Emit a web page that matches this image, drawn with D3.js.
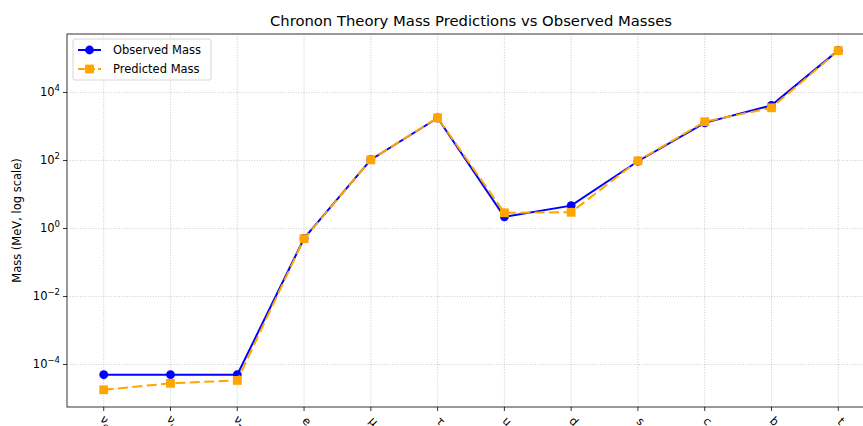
<!DOCTYPE html>
<html>
<head>
<meta charset="utf-8">
<script src="https://d3js.org/d3.v7.min.js"></script>
<style>
  body { margin: 0; background: #fff; overflow: hidden; }
  svg { display: block; font-family: "DejaVu Sans", sans-serif; }
</style>
</head>
<body>
<svg id="chart" width="863" height="426"></svg>
<script>
// particles and masses (MeV)
const particles = ["νe", "νμ", "ντ", "e", "μ", "τ", "u", "d", "s", "c", "b", "t"];
const observed = [5e-5, 5e-5, 5e-5, 0.511, 105.7, 1777, 2.2, 4.7, 95, 1275, 4180, 173000];
const predicted = [1.8e-5, 2.8e-5, 3.4e-5, 0.5, 105, 1800, 2.9, 3.0, 98, 1380, 3550, 170000];
const yTicks = [-4, -2, 0, 2, 4];

const svg = d3.select("#chart");
const plotLeft = 67, plotRight = 875, plotTop = 34, plotBottom = 407;

const x = d3.scaleLinear().domain([-0.55, particles.length - 1 + 0.55]).range([plotLeft, plotRight]);
const y = d3.scaleLog().domain([Math.pow(10, -5.25), Math.pow(10, 5.72)]).range([plotBottom, plotTop]);

// grid
const grid = svg.append("g");
particles.forEach((p, i) => {
  grid.append("line")
    .attr("x1", x(i)).attr("x2", x(i)).attr("y1", plotTop).attr("y2", plotBottom)
    .attr("stroke", "#b0b0b0").attr("stroke-width", 0.8).attr("stroke-dasharray", "1,1.6").attr("opacity", 0.8);
});
yTicks.forEach(e => {
  grid.append("line")
    .attr("x1", plotLeft).attr("x2", plotRight).attr("y1", y(Math.pow(10, e))).attr("y2", y(Math.pow(10, e)))
    .attr("stroke", "#b0b0b0").attr("stroke-width", 0.8).attr("stroke-dasharray", "1,1.6").attr("opacity", 0.8);
});

// y axis ticks and labels
yTicks.forEach(e => {
  const yy = y(Math.pow(10, e));
  svg.append("line").attr("x1", plotLeft - 4).attr("x2", plotLeft).attr("y1", yy).attr("y2", yy)
    .attr("stroke", "#000").attr("stroke-width", 0.8);
  const t = svg.append("text").attr("x", plotLeft - 7).attr("y", yy + 4)
    .attr("text-anchor", "end").attr("font-size", 11.5).attr("fill", "#000");
  t.append("tspan").text("10");
  t.append("tspan").attr("dy", -5).attr("font-size", 8.5).text(e < 0 ? "\u2212" + (-e) : e);
});

// x axis ticks and rotated labels
particles.forEach((p, i) => {
  svg.append("line").attr("x1", x(i)).attr("x2", x(i)).attr("y1", plotBottom).attr("y2", plotBottom + 4)
    .attr("stroke", "#000").attr("stroke-width", 0.8);
  const lbl = svg.append("text")
    .attr("transform", `translate(${x(i)},${plotBottom + 17}) rotate(45)`)
    .attr("text-anchor", "middle").attr("font-size", 11.5).attr("fill", "#000");
  if (p.length > 1) {
    lbl.append("tspan").text(p[0]);
    lbl.append("tspan").attr("dy", 3).attr("font-size", 8.5).text(p[1]);
  } else {
    lbl.text(p);
  }
});

// axes frame
svg.append("rect").attr("x", plotLeft).attr("y", plotTop).attr("width", plotRight - plotLeft).attr("height", plotBottom - plotTop)
  .attr("fill", "none").attr("stroke", "#000").attr("stroke-width", 0.8);

// series
const line = d3.line().x((d, i) => x(i)).y(d => y(d));

svg.append("path").datum(observed).attr("d", line)
  .attr("fill", "none").attr("stroke", "#0000ff").attr("stroke-width", 2);
svg.selectAll(".obs").data(observed).join("circle")
  .attr("cx", (d, i) => x(i)).attr("cy", d => y(d)).attr("r", 4.4).attr("fill", "#0000ff");

svg.append("path").datum(predicted).attr("d", line)
  .attr("fill", "none").attr("stroke", "orange").attr("stroke-width", 2).attr("stroke-dasharray", "10,4.4");
svg.selectAll(".pred").data(predicted).join("rect")
  .attr("x", (d, i) => x(i) - 4.4).attr("y", d => y(d) - 4.4).attr("width", 8.8).attr("height", 8.8).attr("fill", "orange");

// title and y label
svg.append("text").attr("x", (plotLeft + plotRight) / 2).attr("y", 26).attr("text-anchor", "middle")
  .attr("font-size", 14.8).attr("fill", "#000").text("Chronon Theory Mass Predictions vs Observed Masses");
svg.append("text").attr("transform", `translate(21,${(plotTop + plotBottom) / 2}) rotate(-90)`)
  .attr("text-anchor", "middle").attr("font-size", 11.5).attr("fill", "#000").text("Mass (MeV, log scale)");

// legend
const lg = svg.append("g").attr("transform", "translate(73,39)");
lg.append("rect").attr("width", 138).attr("height", 41).attr("rx", 2)
  .attr("fill", "#fff").attr("fill-opacity", 0.8).attr("stroke", "#ccc").attr("stroke-width", 0.8);
lg.append("line").attr("x1", 5).attr("x2", 28).attr("y1", 11).attr("y2", 11).attr("stroke", "#0000ff").attr("stroke-width", 2);
lg.append("circle").attr("cx", 16.5).attr("cy", 11).attr("r", 4.4).attr("fill", "#0000ff");
lg.append("text").attr("x", 40).attr("y", 15).attr("font-size", 11.5).text("Observed Mass");
lg.append("line").attr("x1", 5).attr("x2", 28).attr("y1", 30).attr("y2", 30).attr("stroke", "orange").attr("stroke-width", 2).attr("stroke-dasharray", "7,3");
lg.append("rect").attr("x", 12.1).attr("y", 25.6).attr("width", 8.8).attr("height", 8.8).attr("fill", "orange");
lg.append("text").attr("x", 40).attr("y", 34).attr("font-size", 11.5).text("Predicted Mass");
</script>
</body>
</html>
